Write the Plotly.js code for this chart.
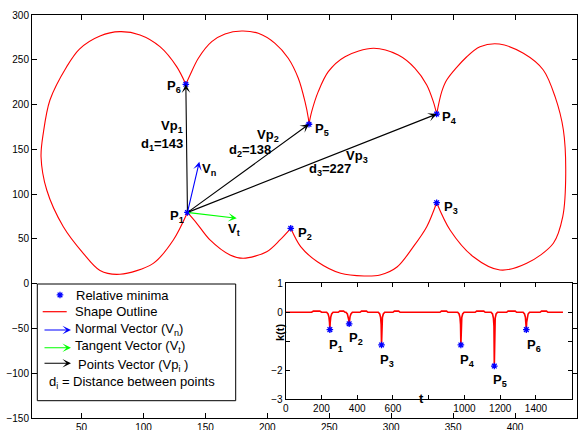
<!DOCTYPE html>
<html><head><meta charset="utf-8">
<script src="https://cdn.plot.ly/plotly-3.0.1.min.js"></script>
<style>html,body{margin:0;padding:0;background:#fff}#chart{width:583px;height:430px}</style>
</head><body><div id="chart"></div><script>
// ---- Shape outline, arc by arc (P1->P2->...->P6->P1)
const arcA_x = [135.5, 143.0, 153.7, 169.9, 180.6, 199.5, 210.2, 218.9];
const arcA_y = [79.5, 67.4, 48.8, 32.0, 28.3, 35.7, 48.8, 61.8];
const arcB_x = [218.9, 226.9, 240.4, 259.2, 278.1, 291.0, 304.7, 317.9, 328.7, 336.7];
const arcB_y = [61.8, 41.3, 24.5, 11.6, 8.6, 9.7, 18.6, 41.3, 63.6, 90.4];
const arcC_x = [336.7, 347.5, 366.3, 387.8, 409.4, 430.9, 438.5, 440.9, 439.0, 432.3, 422.8, 406.7, 387.3, 371.7, 361.0, 344.8, 340.8, 336.7];
const arcC_y = [90.4, 60.0, 30.1, 15.3, 22.7, 45.1, 74.8, 123.2, 171.6, 208.8, 238.6, 257.2, 267.6, 264.6, 253.4, 227.4, 214.4, 189.4];
const arcD_x = [336.7, 334.0, 328.7, 319.2, 305.7, 285.6, 262.7, 249.2, 241.1, 235.8, 233.6];
const arcD_y = [189.4, 203.2, 221.8, 240.5, 255.3, 262.8, 253.4, 236.7, 214.4, 192.0, 178.0];
const arcE_x = [233.6, 233.1, 230.4, 225.0, 216.9, 206.2, 192.7, 179.3, 165.8, 155.1, 144.3, 137.6, 134.2];
const arcE_y = [178.0, 184.7, 203.2, 229.3, 251.7, 268.4, 279.6, 282.1, 278.8, 270.2, 251.7, 233.0, 222.6];
const arcF_x = [134.2, 126.8, 113.3, 97.2, 81.0, 64.9, 48.3, 38.0, 24.5, 19.1, 17.3, 21.9, 35.3, 51.4, 64.9, 81.0, 107.9, 124.1, 135.5];
const arcF_y = [222.6, 242.3, 264.6, 277.7, 281.4, 276.6, 262.0, 242.3, 205.1, 167.9, 141.8, 104.6, 63.6, 33.9, 14.7, 10.5, 22.7, 48.8, 79.5];

// ---- Relative minima points P1..P6
const minLabels = ['1', '2', '3', '4', '5', '6'];
const minX = [135.5, 218.9, 336.7, 336.7, 233.6, 134.2];
const minY = [79.5, 61.8, 90.4, 189.4, 178.0, 222.6];

// ---- Normal / tangent vector tips (from P1)
const normalTip = [145.1, 136.2];
const tangentTip = [175.3, 73.0];
const distances = [143, 138, 227];

// ---- Curvature k(t)
const kT = [0, 145, 155, 191, 201,
  229, 237, 242, 245, 247, 249, 252, 257, 265,
  294, 302, 324, 332,
  337, 345, 350, 353, 355, 357, 360, 365, 373,
  416, 424, 452, 460,
  518, 526, 531, 534, 536, 538, 541, 546, 554,
  600, 608, 632, 640,
  863, 871, 900, 908,
  962, 970, 975, 978, 980, 982, 985, 990, 998,
  1060, 1068, 1108, 1116,
  1149, 1157, 1162, 1165, 1167, 1169, 1172, 1177, 1185,
  1236, 1244, 1284, 1292,
  1328, 1336, 1341, 1344, 1346, 1348, 1351, 1356, 1364,
  1423, 1431, 1459, 1467, 1551];
const kV = [0, 0, 0.04, 0.04, 0,
  0, -0.06, -0.17, -0.35, -0.60, -0.35, -0.17, -0.06, 0,
  0, 0.04, 0.04, 0,
  0, -0.06, -0.15, -0.27, -0.40, -0.27, -0.15, -0.06, 0,
  0, 0.04, 0.04, 0,
  0, -0.06, -0.18, -0.42, -1.13, -0.42, -0.18, -0.06, 0,
  0, 0.04, 0.04, 0,
  0, 0.04, 0.04, 0,
  0, -0.06, -0.18, -0.42, -1.13, -0.42, -0.18, -0.06, 0,
  0, 0.04, 0.04, 0,
  0, -0.06, -0.20, -0.48, -1.86, -0.48, -0.20, -0.06, 0,
  0, 0.04, 0.04, 0,
  0, -0.06, -0.17, -0.35, -0.60, -0.35, -0.17, -0.06, 0,
  0, 0.04, 0.04, 0, 0];
const kMinT = [247, 355, 536, 980, 1167, 1346];
const kMinV = [-0.60, -0.40, -1.13, -1.13, -1.86, -0.60];

// ---- Tick labels
const mainXTicks = [50, 100, 150, 200, 250, 300, 350, 400, 450];
const mainYTicks = [-150, -100, -50, 0, 50, 100, 150, 200, 250, 300];
const insetXTicks = [0, 200, 400, 600, 800, 1000, 1200, 1400];
const insetXText = ['0', '200', '400', '600', '', '1000', '1200', '1400'];
const insetYTicks = [-3, -2, -1, 0, 1];
const insetYText = ['\u22123', '\u22122', '', '0', '1'];

const FONT = 'Liberation Sans, Arial, Helvetica, sans-serif';
const RED = '#ff0000', BLUE = '#0000ff', GREEN = '#00ff00';

const arcs = [[arcA_x, arcA_y], [arcB_x, arcB_y], [arcC_x, arcC_y], [arcD_x, arcD_y], [arcE_x, arcE_y], [arcF_x, arcF_y]];
const traces = arcs.map(a => ({
  x: a[0], y: a[1], type: 'scatter', mode: 'lines', xaxis: 'x', yaxis: 'y',
  line: {color: RED, width: 1.1, shape: 'spline', smoothing: 0.9}, hoverinfo: 'skip'
}));
const starMarker = {symbol: 'asterisk-open', size: 5.5, color: BLUE, line: {color: BLUE, width: 1.3}};
traces.push({x: minX, y: minY, type: 'scatter', mode: 'markers', xaxis: 'x', yaxis: 'y', marker: starMarker});
// legend star (in main axes coordinates)
traces.push({x: [32.6], y: [-12.6], type: 'scatter', mode: 'markers', xaxis: 'x', yaxis: 'y', marker: starMarker});
// inset curvature
traces.push({x: kT, y: kV, type: 'scatter', mode: 'lines', xaxis: 'x2', yaxis: 'y2', line: {color: RED, width: 1.6}});
traces.push({x: kMinT, y: kMinV, type: 'scatter', mode: 'markers', xaxis: 'x2', yaxis: 'y2', marker: starMarker});

const ann = [];
function arrow(tx, ty, sx, sy, color) {
  ann.push({x: tx, y: ty, ax: sx, ay: sy, xref: 'x', yref: 'y', axref: 'x', ayref: 'y', text: '',
    showarrow: true, arrowhead: 3, arrowsize: 1.3, arrowwidth: 1.1, arrowcolor: color, standoff: 0});
}
// points vectors P1 -> P6, P5, P4
arrow(minX[5], minY[5], minX[0], minY[0], 'black');
arrow(minX[4], minY[4], minX[0], minY[0], 'black');
arrow(minX[3], minY[3], minX[0], minY[0], 'black');
arrow(normalTip[0], normalTip[1], minX[0], minY[0], BLUE);
arrow(tangentTip[0], tangentTip[1], minX[0], minY[0], GREEN);

function txt(x, y, t, xa, opts) {
  ann.push(Object.assign({x: x, y: y, xref: 'x', yref: 'y', text: t, showarrow: false, xanchor: xa, yanchor: 'middle',
    font: {family: FONT, size: 13, color: 'black'}}, opts || {}));
}
// P labels on the outline
const pLab = [[134.1, 75.5, 'right'], [222.9, 56.5, 'left'], [340.8, 84.5, 'left'], [339.4, 186.0, 'left'], [237.1, 172.6, 'left'], [131.9, 220.6, 'right']];
pLab.forEach((p, i) => txt(p[0], p[1], '<b>P<sub>' + minLabels[i] + '</sub></b>', p[2]));
// vector labels
txt(133.5, 175.0, '<b>Vp<sub>1</sub></b>', 'right');
txt(133.5, 155.0, '<b>d<sub>1</sub>=' + distances[0] + '</b>', 'right');
txt(190.0, 165.0, '<b>Vp<sub>2</sub></b>', 'left');
txt(167.2, 148.3, '<b>d<sub>2</sub>=' + distances[1] + '</b>', 'left');
txt(262.0, 142.5, '<b>Vp<sub>3</sub></b>', 'left');
txt(231.8, 127.0, '<b>d<sub>3</sub>=' + distances[2] + '</b>', 'left');
txt(145.6, 128.0, '<b>V<sub>n</sub></b>', 'left');
txt(166.6, 60.0, '<b>V<sub>t</sub></b>', 'left');

// inset P labels
const kLab = [[232.7, -0.77], [344.6, -0.56], [514.7, -1.29], [965.6, -1.29], [1148.5, -2.01], [1338.8, -0.77]];
kLab.forEach((p, i) => ann.push({x: p[0], y: p[1], xref: 'x2', yref: 'y2', text: '<b>P<sub>' + minLabels[i] + '</sub></b>',
  showarrow: false, xanchor: 'left', yanchor: 'top', font: {family: FONT, size: 13, color: 'black'}}));
// inset axis labels
ann.push({x: 0.455, y: 0.1873, xref: 'paper', yref: 'paper', text: '<b>k(t)</b>', textangle: -90, showarrow: false,
  font: {family: FONT, size: 11, color: 'black'}});
ann.push({x: 0.7229, y: 0.026, xref: 'paper', yref: 'paper', text: '<b>t</b>', showarrow: false,
  font: {family: FONT, size: 13, color: 'black'}});

// legend
function px(v) { return (v - 32) / 545; }
function py(v) { return (418 - v) / 403; }
const legText = [
  [74, 295, 'Relative minima'],
  [73, 311.7, 'Shape Outline'],
  [73, 329, 'Normal Vector (V<sub>n</sub>)'],
  [73, 346, 'Tangent Vector (V<sub>t</sub>)'],
  [76, 365, 'Points Vector (Vp<sub>i</sub> )'],
  [47, 382, 'd<sub>i</sub> = Distance between points']
];
legText.forEach(l => ann.push({x: px(l[0]), y: py(l[1]), xref: 'paper', yref: 'paper', text: l[2], showarrow: false,
  xanchor: 'left', yanchor: 'middle', font: {family: FONT, size: 13, color: 'black'}}));
[[330, BLUE], [347.7, GREEN], [363.3, 'black']].forEach(a => ann.push({x: px(71), y: py(a[0]), xref: 'paper', yref: 'paper',
  ax: -28, ay: 0, text: '', showarrow: true, arrowhead: 3, arrowsize: 1.3, arrowwidth: 1.1, arrowcolor: a[1], standoff: 0}));

const shapes = [
  {type: 'rect', xref: 'paper', yref: 'paper', x0: px(37.3), x1: px(235.7), y0: py(400.7), y1: py(284),
    line: {color: 'black', width: 1}, fillcolor: 'rgba(255,255,255,0)', layer: 'below'},
  {type: 'line', xref: 'paper', yref: 'paper', x0: px(42.7), x1: px(66.7), y0: py(311.7), y1: py(311.7),
    line: {color: RED, width: 1.2}}
];

const axBase = {showline: true, linecolor: 'black', linewidth: 1, mirror: 'ticks', ticks: 'inside', tickcolor: 'black',
  showgrid: false, zeroline: false, tickfont: {family: FONT, size: 10, color: 'black'}};

const layout = {
  width: 583, height: 430, margin: {l: 32, r: 6, t: 15, b: 12},
  paper_bgcolor: 'white', plot_bgcolor: 'white', showlegend: false,
  xaxis: Object.assign({}, axBase, {range: [10, 450], tickmode: 'array', tickvals: mainXTicks, ticklen: 5}),
  yaxis: Object.assign({}, axBase, {range: [-150, 300], tickmode: 'array', tickvals: mainYTicks, ticklen: 5}),
  xaxis2: Object.assign({}, axBase, {domain: [0.4655, 0.9903], anchor: 'y2', range: [0, 1600], tickmode: 'array',
    tickvals: insetXTicks, ticktext: insetXText, ticklen: 4}),
  yaxis2: Object.assign({}, axBase, {domain: [0.0471, 0.3342], anchor: 'x2', range: [-3, 1], tickmode: 'array',
    tickvals: insetYTicks, ticktext: insetYText, ticklen: 4}),
  annotations: ann, shapes: shapes
};
Plotly.newPlot('chart', traces, layout, {staticPlot: true, displayModeBar: false});
</script></body></html>
